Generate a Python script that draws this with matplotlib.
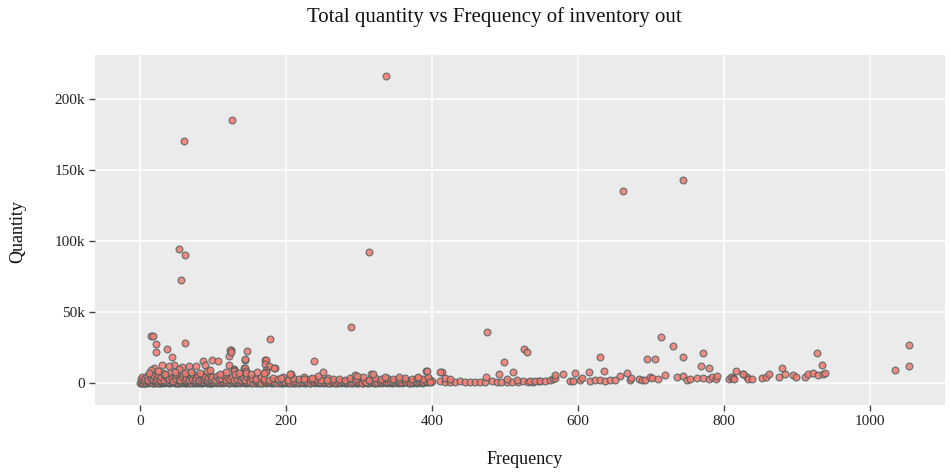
import matplotlib
matplotlib.use("Agg")
import matplotlib.pyplot as plt
from matplotlib.ticker import FuncFormatter

plt.rcParams["font.family"] = ["Liberation Serif", "DejaVu Serif"]

# (frequency, total quantity) per item, grouped by region of the chart
outliers = [
    (337, 216000), (126, 185000), (60, 170500), (744, 143000), (662, 135000),
    (53, 94300), (314, 92400), (61, 90000), (56, 72700), (289, 39300),
    (475, 35600), (15, 32900), (17, 33300), (714, 32600), (178, 31000),
    (61, 27900), (21, 27500), (1054, 26500), (730, 26000), (526, 24000),
    (37, 24000), (124, 23500), (146, 22500), (123, 23000), (530, 21600),
    (21, 21600), (124, 21800), (928, 21400), (772, 20900),
]

mid_points = [
    (44, 18000), (121, 18800), (144, 16400), (171, 16200), (172, 16400),
    (630, 18000), (744, 18000), (694, 16700), (706, 16700), (99, 16000),
    (106, 15700), (86, 15300), (238, 15300), (498, 15000), (144, 16700),
    (171, 13600), (89, 12900), (121, 12900), (46, 12700), (30, 12400),
    (40, 12200), (67, 12000), (76, 11700), (176, 12000), (768, 12200),
    (934, 12900), (1054, 11700), (57, 11000), (880, 10800), (142, 10800),
    (144, 10800), (185, 10600), (19, 10300), (184, 10300), (780, 10300),
    (53, 9900), (128, 9900), (1035, 9200), (129, 9200), (173, 9200),
    (15, 8900), (91, 8700), (145, 8700), (635, 8700),
    (817, 8700), (392, 8400), (393, 8200), (129, 8200), (413, 8000),
    (615, 8000), (173, 7700), (411, 7700), (251, 7500), (511, 7500),
    (596, 7300), (145, 7300), (170, 7300), (667, 6800), (206, 6600),
    (492, 6300), (316, 6300), (130, 6300), (826, 6300), (862, 6100),
    (205, 6100), (579, 6100), (95, 9000), (12, 7000), (25, 8500),
    (34, 6500), (48, 7500), (62, 6800), (70, 8000), (82, 7200),
    (110, 6500), (118, 7800), (135, 7000), (152, 6000), (160, 7500),
    (295, 5600), (297, 5200), (319, 6300), (568, 5600), (719, 5600),
]

low_band = [
    (0, 50), (2, 300), (4, 150), (6, 600), (8, 200), (10, 900), (12, 400),
    (14, 700), (16, 250), (18, 1100), (20, 500), (22, 800), (24, 300),
    (26, 1200), (28, 600), (30, 400), (32, 900), (34, 350), (36, 1000),
    (38, 500), (40, 700), (42, 1300), (44, 450), (46, 800), (48, 1100),
    (50, 600), (52, 300), (54, 950), (56, 700), (58, 1200), (60, 500),
    (62, 850), (64, 400), (66, 1000), (68, 650), (70, 300), (72, 1150),
    (74, 750), (76, 500), (78, 900), (80, 350), (82, 1050), (84, 600),
    (86, 800), (88, 450), (90, 1200), (92, 700), (94, 300), (96, 950),
    (98, 550), (100, 850), (103, 400), (106, 1000), (109, 650), (112, 1100),
    (115, 500), (118, 750), (121, 300), (124, 900), (127, 600), (130, 1050),
    (133, 450), (136, 800), (139, 350), (142, 700), (145, 950), (148, 500),
    (1, 2500), (3, 4200), (5, 1800), (7, 3300), (9, 5200), (11, 2200),
    (13, 6100), (15, 3800), (17, 2700), (19, 4700), (21, 1900), (23, 3500),
    (25, 5600), (27, 2400), (29, 4300), (31, 6800), (33, 2100), (35, 3900),
    (37, 5000), (39, 2800), (41, 7200), (43, 3400), (45, 1700), (47, 4600),
    (49, 2600), (51, 5800), (53, 3100), (55, 2000), (57, 4400), (59, 6400),
    (61, 2300), (63, 3700), (65, 5300), (67, 1800), (69, 4000), (71, 2900),
    (73, 6000), (75, 2200), (77, 3600), (79, 4900), (81, 1900), (83, 3200),
    (85, 5500), (87, 2500), (89, 4100), (91, 2000), (93, 3400), (95, 6600),
    (97, 2700), (99, 3900), (102, 2100), (105, 4800), (108, 2600),
    (111, 3300), (114, 5900), (117, 2200), (120, 3800), (123, 2900),
    (126, 4500), (129, 1900), (132, 3100), (135, 5100), (138, 2400),
    (141, 3600), (144, 2000), (147, 4200), (150, 2800),
    (151, 800), (154, 300), (157, 1200), (160, 500), (163, 900), (166, 200),
    (169, 1400), (172, 600), (175, 1000), (178, 350), (181, 1600),
    (184, 700), (187, 250), (190, 1100), (193, 550), (196, 1300), (199, 400),
    (202, 900), (205, 200), (208, 1200), (211, 650), (214, 1500), (217, 300),
    (220, 1000), (223, 500), (226, 1700), (229, 800), (232, 250),
    (235, 1200), (238, 600), (241, 1400), (244, 350), (247, 900),
    (250, 1800), (253, 500), (256, 1100), (259, 300), (262, 1300),
    (265, 700), (268, 200), (271, 1000), (274, 550), (277, 1500), (280, 400),
    (283, 900), (286, 1200), (289, 300), (292, 800), (295, 1600), (298, 500),
    (301, 1000), (304, 250), (307, 1300), (310, 700), (313, 1900),
    (316, 450), (319, 1100), (322, 300), (325, 900), (328, 1500), (331, 600),
    (334, 1200), (337, 350), (340, 1000), (343, 1700), (346, 500),
    (349, 800), (352, 1300), (355, 400), (358, 1000), (361, 2000),
    (364, 600), (367, 1200), (370, 300), (373, 900), (376, 1500), (379, 700),
    (382, 1100), (385, 2200), (388, 900), (391, 1400), (394, 2600),
    (397, 1800), (400, 1200),
    (153, 3500), (158, 2600), (165, 4200), (170, 3000), (176, 2300),
    (182, 3800), (189, 2700), (195, 4500), (203, 2400), (210, 3300),
    (218, 2800), (225, 4000), (233, 2500), (240, 3100), (248, 2200),
    (257, 3600), (264, 2600), (272, 3000), (280, 2300), (288, 3400),
    (296, 2700), (305, 3900), (313, 2400), (322, 3200), (330, 2600),
    (338, 3700), (347, 2900), (355, 2500), (363, 3300), (372, 2800),
    (380, 3500), (388, 3100), (395, 4200), (244, 4900), (235, 3300),
    (256, 2100), (224, 2600), (193, 3300), (335, 4500), (355, 4500),
    (381, 4500),
]

# items with very small totals, packed along the zero line
zero_band = [
    (1, 100), (3, 400), (5, 0), (7, 250), (9, 500), (11, 100), (13, 350),
    (15, 600), (17, 50), (19, 300), (21, 700), (23, 150), (25, 450),
    (27, 0), (29, 200), (31, 550), (33, 100), (35, 400), (37, 650),
    (39, 200), (41, 0), (43, 350), (45, 600), (47, 150), (49, 400),
    (51, 50), (53, 300), (55, 550), (57, 100), (59, 450), (61, 0),
    (63, 250), (65, 500), (67, 100), (69, 350), (71, 600), (73, 200),
    (75, 0), (77, 400), (79, 150), (81, 500), (83, 250), (85, 0),
    (87, 350), (89, 600), (91, 100), (93, 450), (95, 200), (97, 0),
    (99, 300), (101, 550), (104, 100), (107, 400), (110, 200), (113, 0),
    (116, 350), (119, 600), (122, 150), (125, 400), (128, 50), (131, 300),
    (134, 550), (137, 100), (140, 400), (143, 200), (146, 0), (149, 350),
    (152, 150), (155, 600), (158, 50), (161, 300), (164, 500), (167, 100),
    (170, 350), (173, 0), (176, 450), (179, 200), (182, 0), (185, 400),
    (188, 600), (191, 150), (194, 300), (197, 0), (200, 500), (203, 200),
    (206, 450), (209, 50), (212, 300), (215, 650), (218, 100), (221, 400),
    (224, 0), (227, 250), (230, 500), (233, 100), (236, 350), (239, 0),
    (242, 600), (245, 200), (248, 400), (251, 50), (254, 300), (257, 600),
    (260, 150), (263, 450), (266, 0), (269, 300), (272, 550), (275, 100),
    (278, 400), (281, 0), (284, 250), (287, 600), (290, 150), (293, 400),
    (296, 0), (299, 300), (302, 550), (305, 150), (308, 450), (311, 50),
    (314, 300), (317, 700), (320, 200), (323, 500), (326, 100), (329, 350),
    (332, 0), (335, 600), (338, 200), (341, 450), (344, 100), (347, 300),
    (350, 650), (353, 150), (356, 400), (359, 50), (362, 350), (365, 700),
    (368, 200), (371, 500), (374, 100), (377, 400), (380, 250), (383, 600),
    (386, 300), (389, 700), (392, 400), (395, 900), (398, 500),
]

upper_band = [
    (397, 800), (411, 1200), (418, 600), (425, 1000), (432, 700),
    (438, 1100), (445, 800), (452, 600), (459, 1000), (466, 900),
    (473, 700), (482, 1100), (489, 800), (495, 600), (502, 1000),
    (509, 900), (518, 700), (525, 1200), (532, 800), (539, 1000),
    (546, 1300), (418, 3300), (425, 2600), (474, 4500), (517, 2100),
    (502, 2600), (534, 1400), (541, 1200), (548, 1500), (555, 1300),
    (562, 1800), (566, 2500), (568, 3400), (589, 1600), (593, 1500),
    (603, 1900), (605, 3300), (616, 1700), (623, 2000), (630, 1800),
    (637, 1600), (644, 2100), (651, 1800), (658, 4900), (671, 2000),
    (673, 3300), (683, 2600), (688, 2100), (692, 2300), (699, 4000),
    (701, 3300), (710, 2600), (736, 4500), (744, 4900), (749, 2100),
    (754, 3000), (763, 3500), (771, 3300), (779, 3000), (783, 4500),
    (789, 3000), (791, 4900), (807, 3000), (810, 4500), (813, 3200),
    (814, 3000), (826, 6300), (831, 4000), (833, 2600), (838, 2600),
    (852, 3800), (857, 4500), (876, 4500), (884, 6100), (895, 5600),
    (899, 4500), (911, 4000), (915, 6300), (922, 6800), (929, 5600),
    (936, 6300), (939, 6800),
]

groups = [zero_band, low_band, upper_band, mid_points, outliers]
freq = [f for g in groups for f, q in g]
qty = [q for g in groups for f, q in g]

W, H = 951, 474
fig = plt.figure(figsize=(W / 100, H / 100), dpi=100)
fig.patch.set_facecolor("white")
ax = fig.add_axes([95 / W, (H - 405) / H, 850 / W, 350 / H])
ax.set_facecolor("#EBEBEB")

ax.scatter(freq, qty, s=24, facecolor=(0.96, 0.47, 0.43, 0.85),
           edgecolor=(0.27, 0.36, 0.36, 0.75), linewidth=0.9, zorder=3)

ax.set_xlim(-62, 1103)
ax.set_ylim(-15500, 231000)
ax.set_xticks([0, 200, 400, 600, 800, 1000])
ax.set_yticks([0, 50000, 100000, 150000, 200000])
ax.yaxis.set_major_formatter(FuncFormatter(
    lambda v, p: "0" if v == 0 else f"{int(v / 1000)}k"))

ax.grid(True, color="white", linewidth=1.1, zorder=0)
ax.set_axisbelow(True)
for s in ax.spines.values():
    s.set_visible(False)
ax.tick_params(axis="both", length=4, width=1, color="#444444",
               labelsize=11, labelcolor="#222222", pad=3)

fig.text(494 / W, 1 - 17 / H, "Total quantity vs Frequency of inventory out",
         ha="center", va="center", fontsize=15, color="#111111")
fig.text(525 / W, 1 - 460 / H, "Frequency", ha="center", va="center",
         fontsize=13, color="#111111")
fig.text(18 / W, 1 - 232 / H, "Quantity", ha="center", va="center",
         rotation=90, fontsize=13, color="#111111")

fig.savefig("out.png", dpi=100, facecolor="white")
